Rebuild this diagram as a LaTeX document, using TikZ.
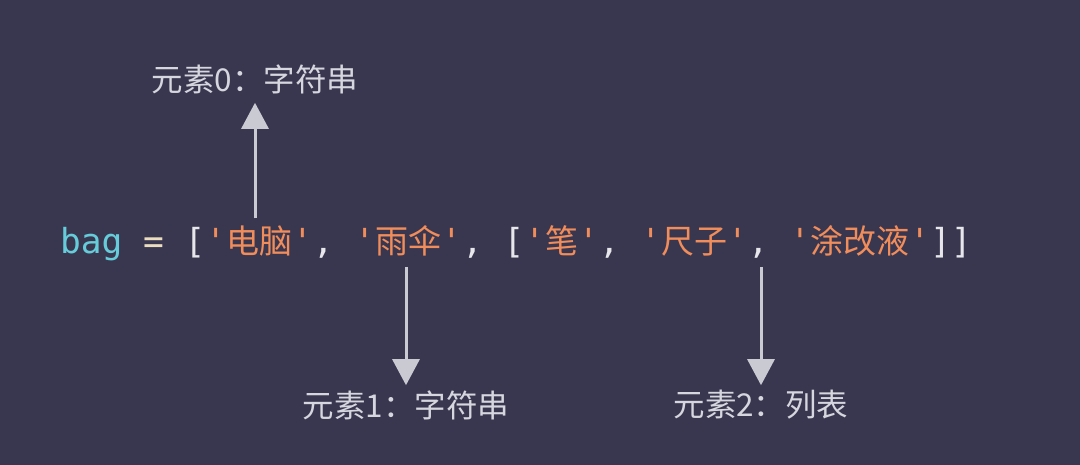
\documentclass[tikz,border=0pt]{standalone}
\usepackage{fontspec}
\usepackage{xcolor}
\usetikzlibrary{arrows.meta,positioning}
\setmonofont{DejaVu Sans Mono}
\newfontfamily\cjk{Noto Sans CJK SC}
\newcommand{\codefont}{\ttfamily\fontsize{34.5}{40}\selectfont}
\newcommand{\hanzi}[1]{{\cjk\fontsize{33}{40}\selectfont #1}}
\newcommand{\labfont}{\cjk\fontsize{31.5}{36}\selectfont}
\def\gap{20.77pt}
\definecolor{bgc}{HTML}{393750}
\definecolor{kwc}{HTML}{66CCD9}
\definecolor{eqc}{HTML}{EBDDBE}
\definecolor{strc}{HTML}{F08D5B}
\definecolor{punc}{HTML}{E6E6EB}
\definecolor{labc}{HTML}{D6D6DE}
\definecolor{arrc}{HTML}{CACAD2}

\tikzset{
  tok/.style={inner sep=0pt, outer sep=0pt, font=\codefont},
  str/.style={tok, text=strc},
  pun/.style={tok, text=punc},
  lab/.style={inner sep=0pt, font=\labfont, text=labc},
  arr/.style={draw=arrc, line width=3pt, -{Triangle[width=27pt,length=26pt]}}
}

\begin{document}
\begin{tikzpicture}[x=1pt,y=-1pt]
  \fill[bgc] (0,0) rectangle (1080,465);

  % code line
  \node[tok, text=kwc, anchor=base west] (bag) at (60,254) {bag};
  \node[tok, text=eqc, base right=\gap of bag] (eq) {=};
  \node[pun, base right=\gap of eq] (lb) {[};
  \node[str, base right=0pt of lb] (s0) {'\hanzi{电脑}'};
  \node[pun, base right=0pt of s0] (c0) {,};
  \node[str, base right=\gap of c0] (s1) {'\hanzi{雨伞}'};
  \node[pun, base right=0pt of s1] (c1) {,};
  \node[pun, base right=\gap of c1] (lb2) {[};
  \node[str, base right=0pt of lb2] (s2) {'\hanzi{笔}'};
  \node[pun, base right=0pt of s2] (c2) {,};
  \node[str, base right=\gap of c2] (s3) {'\hanzi{尺子}'};
  \node[pun, base right=0pt of s3] (c3) {,};
  \node[str, base right=\gap of c3] (s4) {'\hanzi{涂改液}'};
  \node[pun, base right=0pt of s4] (rb) {]]};

  % labels
  \node[lab] (lab0) at (255,79) {元素0：字符串};
  \node[lab] (lab1) at (406,405) {元素1：字符串};
  \node[lab] (lab2) at (761,405) {元素2：列表};

  % arrows
  \draw[arr, shorten <=8pt, shorten >=9pt] (lab0.south |- s0.north) -- (lab0.south);
  \draw[arr, shorten <=13pt, shorten >=5pt] (lab1.north |- s1.base) -- (lab1.north);
  \draw[arr, shorten <=13pt, shorten >=5pt] (lab2.north |- c3.base) -- (lab2.north);
\end{tikzpicture}
\end{document}
